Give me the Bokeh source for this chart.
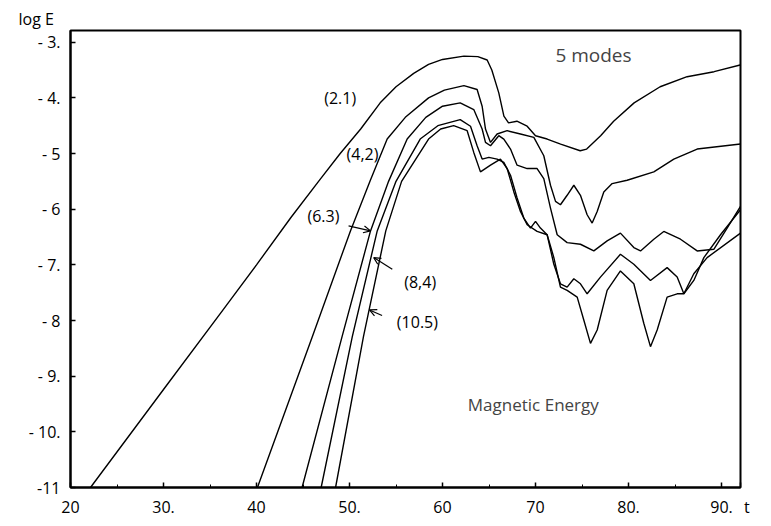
from bokeh.plotting import figure
from bokeh.models import Range1d, FixedTicker, Label, Arrow, OpenHead
from bokeh.embed import file_html
from bokeh.resources import INLINE

# ---- data ----
t_21 = [22.15, 30, 36, 40, 43.7, 46.9, 49.0, 51.2, 53.3, 55.0, 56.9, 58.5, 60.0, 62.3, 63.8,
        64.8, 65.3, 66.05, 66.6, 67.1, 68.0, 69.1, 70.0, 71.25, 72.7, 74.8, 75.5, 77.0,
        78.4, 80.6, 83.4, 86.3, 89.2, 92.0]
e_21 = [-11, -9.24, -7.9, -7.0, -6.15, -5.45, -5.0, -4.56, -4.09, -3.8, -3.56, -3.40, -3.31,
        -3.25, -3.26, -3.32, -3.50, -3.91, -4.33, -4.45, -4.42, -4.51, -4.68, -4.74, -4.83,
        -4.95, -4.92, -4.68, -4.42, -4.09, -3.80, -3.62, -3.53, -3.41]

t_42 = [40.1, 46.0, 50.1, 52.2, 54.05, 56.0, 58.5, 60.2, 62.3, 63.72, 64.26, 64.62, 65.16,
        65.87, 66.95, 68.38, 69.82, 70.89, 71.61, 72.15, 72.68, 73.40, 74.12, 74.83, 75.55,
        76.09, 76.63, 77.34, 78.24, 79.85, 82.72, 84.87, 87.38, 92.04]
e_42 = [-11, -8.29, -6.39, -5.5, -4.74, -4.35, -4.0, -3.86, -3.78, -3.85, -4.15, -4.56, -4.80,
        -4.65, -4.59, -4.65, -4.71, -5.04, -5.57, -5.86, -5.92, -5.75, -5.57, -5.75, -6.10,
        -6.25, -6.04, -5.69, -5.54, -5.48, -5.33, -5.10, -4.92, -4.83]

t_63 = [44.9, 49.2, 52.26, 54.2, 56.2, 58.2, 60.0, 61.9, 63.36, 64.26, 64.62, 65.16, 66.05,
        66.59, 67.31, 68.02, 69.10, 70.17, 70.89, 71.61, 72.33, 73.40, 74.83, 76.27, 77.70,
        79.13, 80.57, 81.29, 82.72, 83.79, 85.59, 87.38, 89.17, 90.60, 92.04]
e_63 = [-11, -8.29, -6.39, -5.5, -4.74, -4.35, -4.15, -4.09, -4.21, -4.56, -4.80, -4.86, -4.68,
        -4.74, -4.92, -5.21, -5.27, -5.27, -5.45, -5.98, -6.46, -6.60, -6.63, -6.75, -6.57,
        -6.43, -6.69, -6.75, -6.54, -6.40, -6.54, -6.75, -6.72, -6.34, -5.95]

t_84 = [46.95, 50.3, 52.98, 55.0, 57.6, 59.5, 61.9, 63.01, 63.72, 64.26, 64.98, 65.87, 66.59,
        67.31, 68.02, 68.74, 69.46, 70.00, 70.53, 71.25, 71.97, 72.68, 73.40, 74.12, 74.83,
        75.55, 76.98, 79.13, 80.57, 82.36, 84.15, 85.23, 85.95, 87.02, 88.10, 89.89, 92.04]
e_84 = [-11, -8.29, -6.39, -5.5, -4.74, -4.5, -4.39, -4.51, -4.86, -5.10, -5.07, -5.10, -5.16,
        -5.39, -5.80, -6.16, -6.34, -6.22, -6.34, -6.46, -6.99, -7.34, -7.40, -7.25, -7.34,
        -7.52, -7.22, -6.81, -6.99, -7.28, -7.05, -7.22, -7.52, -7.28, -6.87, -6.46, -6.01]

t_105 = [48.5, 51.5, 53.9, 55.6, 58.5, 59.8, 61.2, 62.65, 63.36, 64.08, 65.16, 66.23, 66.95,
         67.67, 68.38, 69.10, 70.17, 71.25, 71.97, 72.68, 73.40, 74.48, 75.19, 75.91, 76.63,
         77.70, 79.13, 80.57, 81.64, 82.36, 83.08, 84.15, 85.23, 85.95, 87.02, 88.45, 92.04]
e_105 = [-11, -8.29, -6.39, -5.5, -4.74, -4.56, -4.50, -4.59, -4.98, -5.33, -5.21, -5.10, -5.27,
         -5.69, -6.04, -6.28, -6.40, -6.46, -6.87, -7.40, -7.46, -7.58, -7.99, -8.41, -8.17,
         -7.46, -7.11, -7.34, -8.05, -8.47, -8.17, -7.58, -7.52, -7.52, -7.16, -6.87, -6.43]

x_ticks = [20, 30, 40, 50, 60, 70, 80, 90]
x_tick_labels = ["20", "30.", "40", "50.", "60", "70", "80.", "90."]
y_ticks = [-11, -10, -9, -8, -7, -6, -5, -4, -3]
y_tick_labels = ["-11", "- 10.", "- 9.", "- 8", "- 7.", "- 6", "- 5", "- 4.", "- 3."]
x_title = "t"
y_title = "log E"

mode_labels = ["(2.1)", "(4,2)", "(6.3)", "(8,4)", "(10.5)"]

FONT = "Open Sans"
W, H = 760, 520
X_END = 92.04

p = figure(width=W, height=H, output_backend="svg", toolbar_location=None,
           x_range=Range1d(20, X_END), y_range=Range1d(-11, -2.79),
           min_border_left=70, min_border_right=W - 740, min_border_top=30,
           min_border_bottom=H - 493)
p.grid.visible = False
p.outline_line_color = "black"
p.outline_line_width = 2
p.background_fill_color = "white"
p.border_fill_color = "white"

for t, e in [(t_21, e_21), (t_42, e_42), (t_63, e_63), (t_84, e_84), (t_105, e_105)]:
    p.line(t, e, line_color="black", line_width=1.4)

# x axis: the "t" title is carried by an extra label at the frame's right edge
p.xaxis.ticker = FixedTicker(ticks=x_ticks + [X_END],
                             minor_ticks=[25, 35, 45, 55, 65, 75, 85])
xo = {k: v for k, v in zip(x_ticks, x_tick_labels)}
xo[X_END] = "\u00a0\u00a0\u00a0" + x_title
p.xaxis.major_label_overrides = xo
p.yaxis.ticker = FixedTicker(ticks=y_ticks, minor_ticks=[])
p.yaxis.major_label_overrides = {k: v for k, v in zip(y_ticks, y_tick_labels)}
for ax in (p.xaxis, p.yaxis):
    ax.axis_line_width = 2
    ax.axis_line_color = "black"
    ax.major_tick_in = 5
    ax.major_tick_out = 0
    ax.minor_tick_in = 3
    ax.minor_tick_out = 0
    ax.major_tick_line_width = 1.5
    ax.major_label_text_font = FONT
    ax.major_label_text_font_size = "16px"
    ax.major_label_text_color = "black"
p.xaxis.major_label_standoff = 8
p.yaxis.major_label_standoff = 10

# y title as the plot title, shifted to the left over the tick labels
p.title.text = y_title
p.title.align = "left"
p.title.offset = -52
p.title.text_font = FONT
p.title.text_font_size = "16px"
p.title.text_font_style = "normal"
p.title.text_color = "black"
p.title.standoff = 2

# mode labels and arrows (data coordinates)
lab_pos = [(49.0, -4.0), (51.4, -5.0), (47.2, -6.12), (57.6, -7.31), (57.3, -8.02)]
for txt, (lx, ly) in zip(mode_labels, lab_pos):
    p.add_layout(Label(x=lx, y=ly, text=txt, text_font=FONT, text_font_size="16px",
                       text_align="center", text_baseline="middle", text_color="black"))

arrows = [((49.9, -6.30), (52.26, -6.39)), ((54.6, -7.08), (52.6, -6.87)),
          ((53.5, -7.91), (52.15, -7.81))]
for (x0, y0), (x1, y1) in arrows:
    p.add_layout(Arrow(x_start=x0, y_start=y0, x_end=x1, y_end=y1, line_width=1.2,
                       end=OpenHead(size=7, line_width=1.2)))

p.add_layout(Label(x=76.5, y=-3.23, text="5  modes", text_font=FONT, text_font_size="19px",
                   text_align="center", text_baseline="middle"))
p.add_layout(Label(x=70.0, y=-9.5, text="Magnetic  Energy", text_font=FONT,
                   text_font_size="17px", text_align="center", text_baseline="middle"))

open("out.html", "w").write(file_html(p, INLINE))
